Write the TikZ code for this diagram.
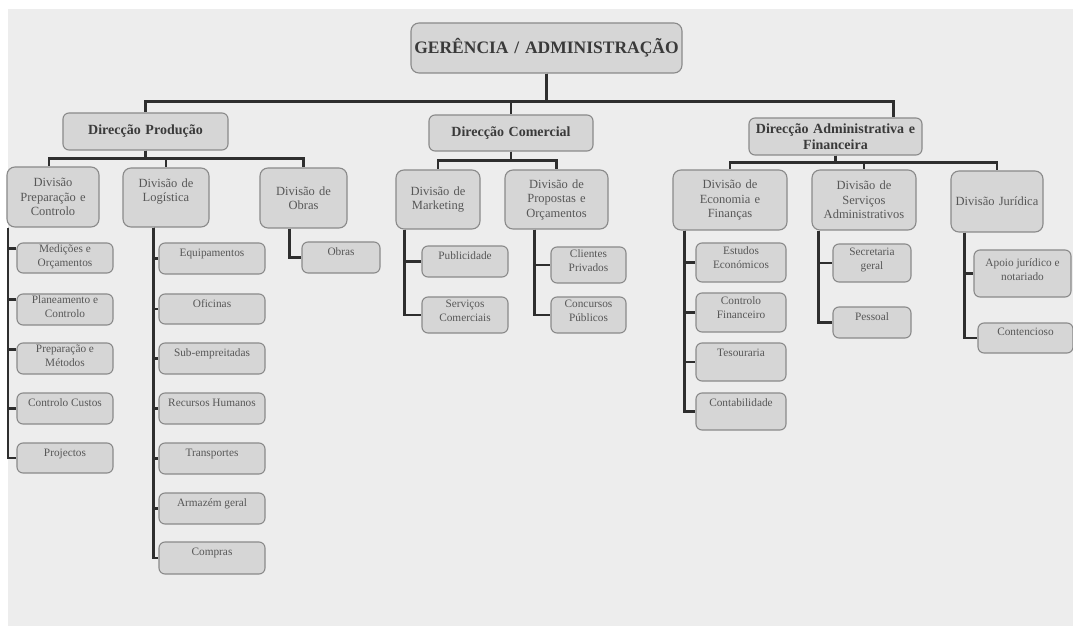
\documentclass[tikz,border=0pt]{standalone}
\usepackage{fontspec}
\setmainfont{Liberation Serif}
\definecolor{bgc}{HTML}{EDEDED}
\definecolor{boxc}{HTML}{D6D6D6}
\definecolor{edgec}{HTML}{8A8A8A}
\definecolor{linec}{HTML}{2E2E2E}
\definecolor{dirtext}{HTML}{3A3A3A}
\definecolor{divtext}{HTML}{575757}
\newcommand\kid[4][6]{\parbox[c][#3bp][t]{#2bp}{\vspace*{#1bp}\centering #4\par}}
\begin{document}
\begin{tikzpicture}[x=1bp,y=-1bp,
  conn/.style={draw=linec, line width=2.6bp},
  base/.style={draw=edgec, fill=boxc, line width=1.1bp, rounded corners=6bp, inner sep=0pt, align=center},
  dirbox/.style 2 args={base, text width=#1bp, minimum height=#2bp, font=\fontsize{14bp}{16bp}\selectfont\bfseries, text=dirtext},
  divbox/.style 2 args={base, text width=#1bp, minimum height=#2bp, font=\fontsize{12.5bp}{14.5bp}\selectfont, text=divtext, rounded corners=8bp},
  kidbox/.style={base, font=\fontsize{11.3bp}{14bp}\selectfont, text=divtext},
]
\useasboundingbox (0,0) rectangle (1073,626);
\fill[white] (0,0) rectangle (1073,626);
\fill[bgc] (8,9) rectangle (1073,626);

% top
\node[base, text width=271bp, minimum height=50bp, rounded corners=8bp, font=\fontsize{17.5bp}{20bp}\selectfont\bfseries, text=dirtext] (top) at (546.5,48) {GERÊNCIA / ADMINISTRAÇÃO};

% directions
\node[dirbox={165}{37}] (DP) at (145.5,131.5) {Direcção Produção};
\node[dirbox={164}{36}] (DC) at (511,133) {Direcção Comercial};
\node[dirbox={173}{37}] (DA) at (835.5,136.5) {Direcção Administrativa e\\Financeira};

% divisions
\node[divbox={92}{60}] (dprep) at (53,197) {Divisão\\Preparação e\\Controlo};
\node[divbox={86}{59}] (dlog) at (166,197.5) {Divisão de\\Logística\\\mbox{}};
\node[divbox={87}{60}] (dobras) at (303.5,198) {Divisão de\\Obras};
\node[divbox={84}{59}] (dmkt) at (438,199.5) {Divisão de\\Marketing};
\node[divbox={103}{59}] (dprop) at (556.5,199.5) {Divisão de\\Propostas e\\Orçamentos};
\node[divbox={114}{60}] (decon) at (730,200) {Divisão de\\Economia e\\Finanças};
\node[divbox={104}{60}] (dserv) at (864,200) {Divisão de\\Serviços\\Administrativos};
\node[divbox={92}{61}] (djur) at (997,201.5) {Divisão Jurídica};

% Preparação children
\node[kidbox] (med) at (65,258) {\kid[1.5]{96}{30}{Medições e\\Orçamentos}};
\node[kidbox] (plan) at (65,309.5) {\kid[1.5]{96}{31}{Planeamento e\\Controlo}};
\node[kidbox] (prepm) at (65,358.5) {\kid[1.5]{96}{31}{Preparação e\\Métodos}};
\node[kidbox] (custos) at (65,408.5) {\kid{96}{31}{Controlo Custos}};
\node[kidbox] (proj) at (65,458) {\kid{96}{30}{Projectos}};

% Logística children
\node[kidbox] (equip) at (212,258.5) {\kid{106}{31}{Equipamentos}};
\node[kidbox] (ofic) at (212,309) {\kid{106}{30}{Oficinas}};
\node[kidbox] (sub) at (212,358.5) {\kid{106}{31}{Sub-empreitadas}};
\node[kidbox] (rh) at (212,408.5) {\kid{106}{31}{Recursos Humanos}};
\node[kidbox] (transp) at (212,458.5) {\kid{106}{31}{Transportes}};
\node[kidbox] (armaz) at (212,508.5) {\kid{106}{31}{Armazém geral}};
\node[kidbox] (compras) at (212,558) {\kid{106}{32}{Compras}};

% Obras child
\node[kidbox] (obrask) at (341,257.5) {\kid{78}{31}{Obras}};

% Marketing children
\node[kidbox] (publ) at (465,261.5) {\kid{86}{31}{Publicidade}};
\node[kidbox] (servc) at (465,315) {\kid[3]{86}{36}{Serviços\\Comerciais}};

% Propostas children
\node[kidbox] (clientes) at (588.5,265) {\kid[3]{75}{36}{Clientes\\Privados}};
\node[kidbox] (concursos) at (588.5,315) {\kid[3]{75}{36}{Concursos\\Públicos}};

% Economia children
\node[kidbox] (estudos) at (741,262.5) {\kid[4]{90}{39}{Estudos\\Económicos}};
\node[kidbox] (ctrlfin) at (741,312.5) {\kid[4]{90}{39}{Controlo\\Financeiro}};
\node[kidbox] (tesour) at (741,362) {\kid[6]{90}{38}{Tesouraria}};
\node[kidbox] (contab) at (741,411.5) {\kid[6]{90}{37}{Contabilidade}};

% Serviços children
\node[kidbox] (secret) at (872,263) {\kid[4]{78}{38}{Secretaria\\geral}};
\node[kidbox] (pessoal) at (872,322.5) {\kid[6]{78}{31}{Pessoal}};

% Jurídica children
\node[kidbox] (apoio) at (1022.5,273.5) {\kid[9]{97}{47}{Apoio jurídico e\\notariado}};
\node[kidbox] (contenc) at (1025.5,338) {\kid[5]{95}{30}{Contencioso}};

% main connectors
\draw[conn] (top.south) -- ++(0,28) -| (DP.north);
\draw[conn] (top.south) -- ++(0,28) -| (DC.north);
\draw[conn] (top.south) -- ++(0,28) -| ([xshift=-29bp]DA.north east);

% direction to divisions
\draw[conn] (DP.south) -- ++(0,8) -| ([xshift=-4bp]dprep.north);
\draw[conn] (DP.south) -- ++(0,8) -| (dlog.north);
\draw[conn] (DP.south) -- ++(0,8) -| (dobras.north);
\draw[conn] (DC.south) -- ++(0,9) -| (dmkt.north);
\draw[conn] (DC.south) -- ++(0,9) -| (dprop.north);
\draw[conn] (DA.south) -- ++(0,7) -| (decon.north);
\draw[conn] (DA.south) -- ++(0,7) -| (dserv.north);
\draw[conn] (DA.south) -- ++(0,7) -| (djur.north);

% divisions to children
\draw[conn] ([xshift=1.5bp]dprep.south west) |- ([yshift=-6bp]med.north west);
\draw[conn] ([xshift=1.5bp]dprep.south west) |- ([yshift=-6bp]plan.north west);
\draw[conn] ([xshift=1.5bp]dprep.south west) |- ([yshift=-7bp]prepm.north west);
\draw[conn] ([xshift=1.5bp]dprep.south west) |- (custos.west);
\draw[conn] ([xshift=1.5bp]dprep.south west) |- (proj.west);

\foreach \k in {equip,ofic,sub,rh,transp,armaz,compras}
  \draw[conn] ([xshift=31bp]dlog.south west) |- (\k.west);
\draw[conn] ([xshift=30bp]dobras.south west) |- (obrask.west);
\foreach \k in {publ,servc}
  \draw[conn] ([xshift=9bp]dmkt.south west) |- (\k.west);
\foreach \k in {clientes,concursos}
  \draw[conn] ([xshift=30bp]dprop.south west) |- (\k.west);
\foreach \k in {estudos,ctrlfin,tesour,contab}
  \draw[conn] ([xshift=12bp]decon.south west) |- (\k.west);
\foreach \k in {secret,pessoal}
  \draw[conn] ([xshift=7bp]dserv.south west) |- (\k.west);
\foreach \k in {apoio,contenc}
  \draw[conn] ([xshift=14bp]djur.south west) |- (\k.west);
\end{tikzpicture}
\end{document}
